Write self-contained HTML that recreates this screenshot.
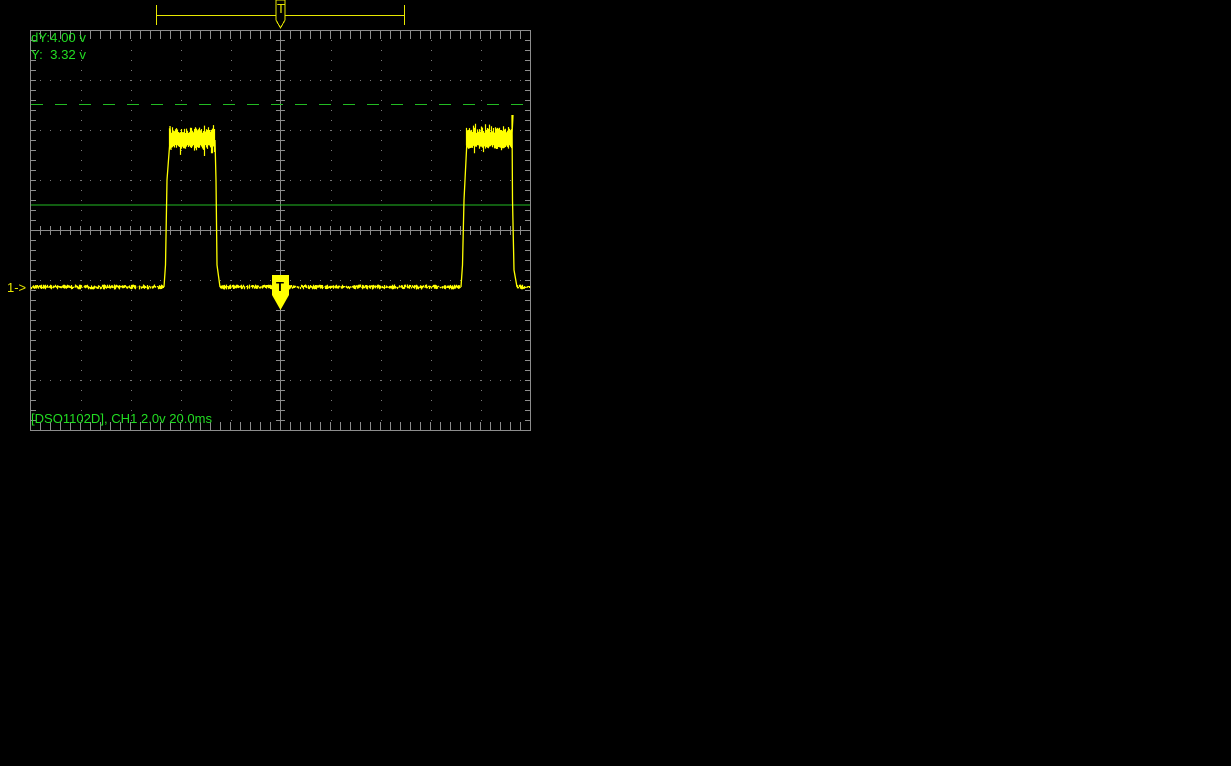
<!DOCTYPE html>
<html><head><meta charset="utf-8"><style>
html,body{margin:0;padding:0;background:#000;width:1231px;height:766px;overflow:hidden}
svg{position:absolute;left:0;top:0}
text{font-family:"Liberation Sans",sans-serif;font-size:13px}
</style></head><body>
<svg id="s" width="1231" height="766" xmlns="http://www.w3.org/2000/svg">
<g id="grid" stroke="#8c8c8c" stroke-width="1" fill="none" shape-rendering="crispEdges"></g>
<line x1="31" y1="205" x2="530" y2="205" stroke="#22bb22" stroke-width="1" shape-rendering="crispEdges"/>
<line x1="31" y1="104.5" x2="530" y2="104.5" stroke="#22bb22" stroke-width="1" stroke-dasharray="12,12" shape-rendering="crispEdges"/>
<g id="wave"></g>
<g stroke="#e8e800" stroke-width="1" fill="none" shape-rendering="crispEdges">
<line x1="156" y1="15.5" x2="405" y2="15.5"/>
<line x1="156.5" y1="5" x2="156.5" y2="25"/>
<line x1="404.5" y1="5" x2="404.5" y2="25"/>
<path d="M276 0 V20 L280.5 28 L285 20 V0 Z" fill="#000"/>
</g>
<text x="277" y="13" fill="#e8e800" font-size="10">T</text>
<path d="M272 275 H289 V295 L280.5 310 L272 295 Z" fill="#ffff00"/>
<text x="276" y="291" fill="#000" font-weight="bold" font-size="13">T</text>
<text x="7" y="292" fill="#e8e800" font-size="10">1-&gt;</text>
<text x="31" y="42" fill="#22dd22" textLength="55" lengthAdjust="spacingAndGlyphs">dY:4.00 v</text>
<text x="31" y="59" fill="#22dd22" textLength="55" lengthAdjust="spacingAndGlyphs">Y:&#160;&#160;3.32 v</text>
<text x="31" y="423" fill="#22dd22" textLength="181" lengthAdjust="spacingAndGlyphs">[DSO1102D], CH1 2.0v 20.0ms</text>
</svg>
<script>
var ns="http://www.w3.org/2000/svg";
var g=document.getElementById('grid'),h='';
function L(a,b,c,d){h+='<line x1="'+a+'" y1="'+b+'" x2="'+c+'" y2="'+d+'"/>';}
L(30.5,30,30.5,431);L(530.5,30,530.5,431);L(30,30.5,531,30.5);L(30,430.5,531,430.5);
L(280.5,30,280.5,430);L(31,230.5,530,230.5);
for(var x=40;x<530;x+=10){L(x+.5,31,x+.5,39);L(x+.5,422,x+.5,430);L(x+.5,226,x+.5,235);}
for(var y=40;y<430;y+=10){L(31,y+.5,36,y+.5);L(525,y+.5,530,y+.5);L(276,y+.5,285,y+.5);}
g.innerHTML=h;
var d='';
for(var i=1;i<10;i++){var gx=31+i*50;if(i==5)continue;for(var y=40;y<430;y+=10)d+='M'+gx+' '+y+'h1v1h-1z';}
for(var j=1;j<8;j++){var gy=30+j*50;if(j==4)continue;for(var x=40;x<530;x+=10)d+='M'+x+' '+gy+'h1v1h-1z';}
var p=document.createElementNS(ns,'path');p.setAttribute('d',d);p.setAttribute('fill','#777');document.getElementById('s').insertBefore(p,document.getElementById('wave'));
var seed=7;function r(){seed=(seed*16807)%2147483647;return seed/2147483647;}
var w='';
function seg(x0,x1,base,amp){for(var x=x0;x<x1;x++){var a=base-amp*r(),b=base+amp*r();w+='M'+(x+.5)+' '+a.toFixed(1)+'V'+b.toFixed(1);}}
seg(31,164,287,2.5);seg(220,461,287,2.5);seg(517,530,287,2.5);
function high(x0,x1){for(var x=x0;x<x1;x++){var a=133-6*r()-(r()<0.15?6*r():0),b=145+4*r()+(r()<0.15?8*r():0);w+='M'+(x+.5)+' '+a.toFixed(1)+'V'+b.toFixed(1);}}
high(169,215);high(466,512);
var wp=document.createElementNS(ns,'path');wp.setAttribute('d',w);wp.setAttribute('stroke','#ffff00');wp.setAttribute('stroke-width','1.2');wp.setAttribute('fill','none');
document.getElementById('wave').appendChild(wp);
var edges='M164 287 L165.5 265 L167 180 L170 140 M215 140 L216 180 L217 265 L220 287 M461 287 L462.5 265 L464 200 L467 140 M512 115 L512.5 200 L514 270 L517 287 M170 126 L171 150 M512 135 L513 115';
var ep=document.createElementNS(ns,'path');ep.setAttribute('d',edges);ep.setAttribute('stroke','#ffff00');ep.setAttribute('stroke-width','1.3');ep.setAttribute('fill','none');
document.getElementById('wave').appendChild(ep);
</script>
</body></html>
